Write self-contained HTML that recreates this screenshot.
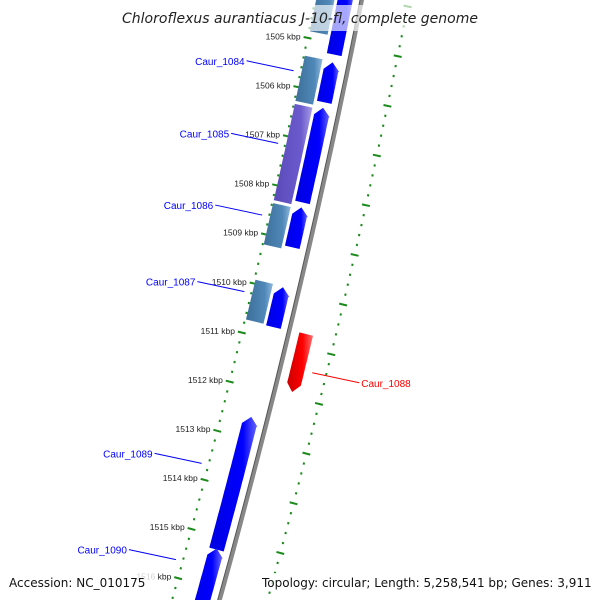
<!DOCTYPE html>
<html><head><meta charset="utf-8"><style>
body{margin:0;background:#fff}
svg{display:block;font-family:"Liberation Sans",sans-serif}
</style></head><body>
<svg id="c" width="600" height="600" viewBox="0 0 600 600" xmlns="http://www.w3.org/2000/svg">
<defs>
<linearGradient id="gb" x1="0" x2="1" y1="0" y2="0"><stop offset="0" stop-color="#0000e0"/><stop offset="0.7" stop-color="#0000ff"/><stop offset="1" stop-color="#6a6aff"/></linearGradient>
<linearGradient id="gs" x1="0" x2="1" y1="0" y2="0"><stop offset="0" stop-color="#3d6f9a"/><stop offset="0.7" stop-color="#4f88b8"/><stop offset="1" stop-color="#8fb8dc"/></linearGradient>
<linearGradient id="gp" x1="0" x2="1" y1="0" y2="0"><stop offset="0" stop-color="#5a4ab8"/><stop offset="0.7" stop-color="#6a5acd"/><stop offset="1" stop-color="#a99ee6"/></linearGradient>
<linearGradient id="gr" x1="0" x2="1" y1="0" y2="0"><stop offset="0" stop-color="#cc0000"/><stop offset="0.6" stop-color="#ff0000"/><stop offset="1" stop-color="#ff7070"/></linearGradient>
</defs>
<g id="marks"></g>
<rect x="118" y="5" width="364" height="26" fill="#fff" opacity="0.65"/>
<text x="300" y="23" text-anchor="middle" font-size="14" font-style="italic" fill="#222" font-family="DejaVu Sans, sans-serif">Chloroflexus aurantiacus J-10-fl, complete genome</text>
<rect x="6" y="573" width="150" height="18" fill="#fff" opacity="0.8"/>
<text x="9" y="587" font-size="12" fill="#111" font-family="DejaVu Sans, sans-serif">Accession: NC_010175</text>
<rect x="259" y="573" width="338" height="18" fill="#fff" opacity="0.8"/>
<text x="262" y="587" font-size="12" fill="#111" font-family="DejaVu Sans, sans-serif">Topology: circular; Length: 5,258,541 bp; Genes: 3,911</text>
</svg>
<script>
// data (kbp)
const tickKbp = [1504,1505,1506,1507,1508,1509,1510,1511,1512,1513,1514,1515,1516];
const fwdStarts = [1503.8,1505.38,1506.3,1508.32,1509.94,1512.57,1515.24];
const fwdEnds   = [1505.22,1506.19,1508.22,1509.13,1510.75,1515.26,1516.9];
const revStarts = [1503.8,1505.36,1506.34,1508.36,1509.92];
const revEnds   = [1504.86,1506.28,1508.3,1509.2,1510.73];
const revKinds  = ['s','s','p','s','s'];
const redStarts = [1510.73];
const redEnds   = [1511.9];
const labelNames = ['Caur_1084','Caur_1085','Caur_1086','Caur_1087','Caur_1088','Caur_1089','Caur_1090'];
const labelKbp   = [1505.7,1507.18,1508.64,1510.2,1511.44,1513.7,1515.66];

const NS='http://www.w3.org/2000/svg';
const g=document.getElementById('marks');
const Y0=47,K=49.4,A=362,B=-0.197,C=-6.67e-5;
function pt(s,off){const y=Y0+(s-1505)*K;const x=A+B*y+C*y*y;const t=B+2*C*y;const n=Math.sqrt(1+t*t);return [x+off/n,y-off*t/n];}
function mk(tag,attrs){const e=document.createElementNS(NS,tag);for(const k in attrs)e.setAttribute(k,attrs[k]);g.appendChild(e);return e;}
function band(s0,s1,o0,o1){const p=[];const N=20;for(let i=0;i<=N;i++)p.push(pt(s0+(s1-s0)*i/N,o0));for(let i=N;i>=0;i--)p.push(pt(s0+(s1-s0)*i/N,o1));return p;}
function ps(p){return p.map(q=>q[0].toFixed(1)+','+q[1].toFixed(1)).join(' ');}

// backbone
let e=mk('polyline',{points:ps(band(1503.5,1517.5,0,0).slice(0,21)),fill:'none',stroke:'#888','stroke-width':4});


e=mk('polyline',{points:ps(band(1503.5,1517.5,-2,-2).slice(0,21)),fill:'none',stroke:'#555','stroke-width':1});



// tick tracks
for(let s=1503.6;s<=1517.2;s+=0.2){
  const major=Math.abs(s-Math.round(s))<0.01;
  [[-46,'left'],[46,'right']].forEach(([o,side])=>{
    const a=pt(s,o-(major?4:1)),b=pt(s,o+(major?4:1));
    const l=mk('line',{x1:a[0],y1:a[1],x2:b[0],y2:b[1],stroke:'#1a8a1a','stroke-width':major?2:2.2});
    
    
  });
}
tickKbp.forEach(k=>{
  const p=pt(k,-53);
  const t=mk('text',{x:p[0],y:p[1]+3,'text-anchor':'end','font-size':8.5,fill:'#222'});
  t.textContent=k+' kbp';
  
  
});

// forward genes (arrow at start)
fwdStarts.forEach((s0,i)=>{
  const s1=fwdEnds[i],o0=-24,o1=-9,h=0.16;
  const tip=pt(s0,(o0+o1)/2);
  const poly=mk('polygon',{points:ps([tip,pt(s0+h,o1+1)].concat(band(s0+h,s1,o1,o0))),fill:'url(#gb)'});
  
  
});
// reverse-track genes
revStarts.forEach((s0,i)=>{
  const poly=mk('polygon',{points:ps(band(s0,revEnds[i],-45,-27)),fill:revKinds[i]==='p'?'url(#gp)':'url(#gs)'});
  
  
});
// red gene (arrow at end)
redStarts.forEach((s0,i)=>{
  const s1=redEnds[i],h=0.16,o0=10,o1=24;
  const body=band(s0,s1-h,o0,o1);
  const pts=body.slice(0,21).concat([pt(s1,(o0+o1)/2)]).concat(body.slice(21));
  const poly=mk('polygon',{points:ps(pts),fill:'url(#gr)'});
  
  
});

// labels
labelNames.forEach((nm,i)=>{
  const red=nm==='Caur_1088';
  const s=labelKbp[i];
  const a=pt(s,red?32:-53);
  const ln=mk('line',{x1:a[0],y1:a[1],x2:a[0]+(red?47:-47),y2:a[1]+(red?10:-10),stroke:red?'#f00':'#00f','stroke-width':1});
  
  
  const t=mk('text',{x:red?a[0]+49:a[0]-49,y:a[1]+(red?14:-6),'text-anchor':red?'start':'end','font-size':10,fill:red?'#f00':'#00f'});
  t.textContent=nm;
  
  
});
</script>
</body></html>
